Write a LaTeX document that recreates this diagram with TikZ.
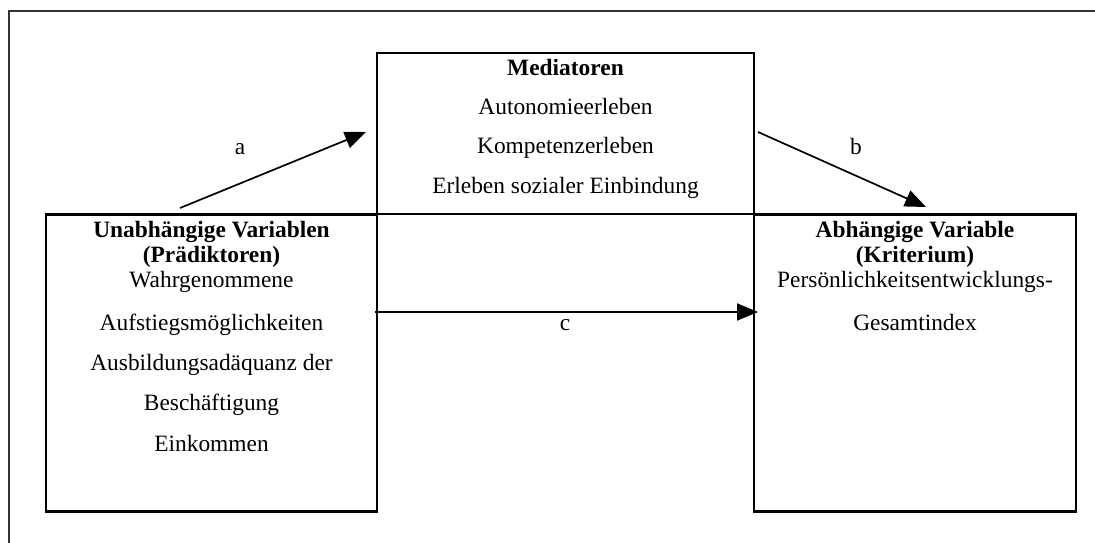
\documentclass[tikz,border=0pt]{standalone}
\usepackage{fontspec}
\setmainfont{Liberation Serif}
\usetikzlibrary{arrows.meta}
\begin{document}
\begin{tikzpicture}[x=1pt,y=-1pt,
  box/.style={draw,rectangle,line width=2.4pt,inner sep=0pt,outer sep=0pt},
  txt/.style={anchor=base,inner sep=0pt,font=\fontsize{23.4}{28}\selectfont},
  head/.style={txt,font=\fontsize{23.4}{28}\selectfont\bfseries},
  path/.style={line width=1.7pt,-{Triangle[length=21pt,width=17pt]}}]
\useasboundingbox (0,0) rectangle (1095,543);
% frame
\draw[black!80,line width=2pt] (1095,11.5) -- (9,11.5) -- (9,543);
% boxes
\node[box,line width=2pt,minimum width=377pt,minimum height=161pt] (med) at (565.5,133.5) {};
\node[box,minimum width=331pt,minimum height=297pt] (uv) at (211.5,363) {};
\node[box,minimum width=322pt,minimum height=297pt] (av) at (915,363) {};
% mediators
\node[head] (m0) at (565.5,75) {Mediatoren};
\node[txt] (m1) at (565.5,114) {Autonomieerleben};
\node[txt] (m2) at (565.5,153.5) {Kompetenzerleben};
\node[txt] (m3) at (565.5,193) {Erleben sozialer Einbindung};
% predictors
\node[head] (u0) at (211.5,237) {Unabhängige Variablen};
\node[head] (u1) at (211.5,262) {(Prädiktoren)};
\node[txt] (u2) at (211.5,287) {Wahrgenommene};
\node[txt] (u3) at (211.5,330) {Aufstiegsmöglichkeiten};
\node[txt] (u4) at (211.5,370) {Ausbildungsadäquanz der};
\node[txt] (u5) at (211.5,410) {Beschäftigung};
\node[txt] (u6) at (211.5,451) {Einkommen};
% criterion
\node[head] (k0) at (915,237) {Abhängige Variable};
\node[head] (k1) at (915,262) {(Kriterium)};
\node[txt] (k2) at (915,287) {Persönlichkeitsentwicklungs-};
\node[txt] (k3) at (915,330) {Gesamtindex};
% paths
\coordinate (aS) at (180,208);
\coordinate (aE) at (366,132);
\coordinate (bS) at (758,132);
\coordinate (bE) at (926,207);
\coordinate (cS) at (375,312);
\coordinate (cE) at (758,312);
\draw[path] (aS) -- (aE);
\draw[path] (bS) -- (bE);
\draw[path] (cS) -- (cE);
\node[txt] (la) at (240,154) {a};
\node[txt] (lb) at (856,154) {b};
\node[txt] (lc) at (565,330) {c};
\end{tikzpicture}
\end{document}
